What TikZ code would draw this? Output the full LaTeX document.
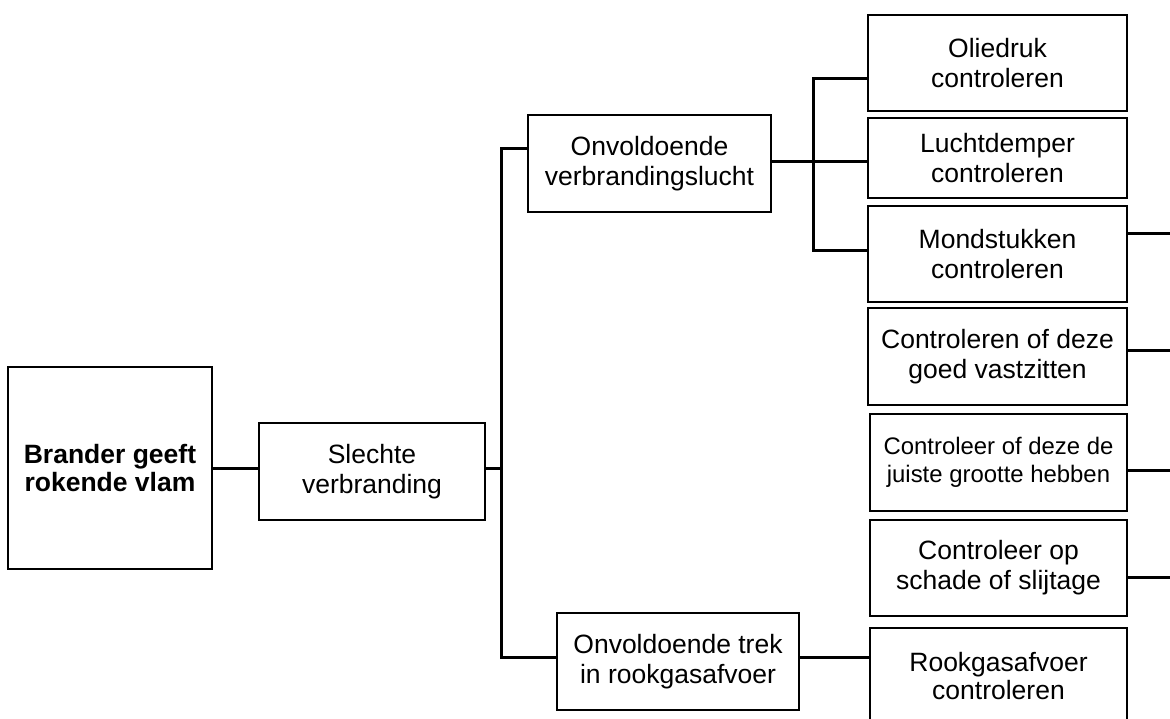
\documentclass[tikz,border=0pt]{standalone}
\usepackage{fontspec}
\setmainfont{Liberation Sans}
\begin{document}
\begin{tikzpicture}[x=1pt,y=-1pt,
  box/.style={draw=black,line width=1.8pt,inner sep=0pt,align=center,
    font=\fontsize{26.5}{30}\selectfont,minimum width=259pt,minimum height=96pt},
  conn/.style={draw=black,line width=3pt}]
\useasboundingbox (0,0) rectangle (1170,718);
\clip (0,0) rectangle (1170,718);
% nodes
\node[box,minimum width=204pt,minimum height=202pt,font=\fontsize{26.5}{28}\selectfont\bfseries] (brander) at (110,468) {Brander geeft\\rokende vlam};
\node[box,minimum width=226pt,minimum height=97pt] (slechte) at (372,471.5) {Slechte\\verbranding};
\node[box,minimum width=243pt,minimum height=97pt] (ovl) at (649.5,163.5) {Onvoldoende\\verbrandingslucht};
\node[box,minimum width=242pt,minimum height=97pt] (otrek) at (678,661.5) {Onvoldoende trek\\in rookgasafvoer};
\node[box] (olie) at (997.5,63) {Oliedruk\\controleren};
\node[box,minimum height=80pt] (lucht) at (997.5,158) {Luchtdemper\\controleren};
\node[box] (mond) at (997.5,254) {Mondstukken\\controleren};
\node[box,minimum height=97pt] (vast) at (997.5,356.5) {Controleren of deze\\goed vastzitten};
\node[box,minimum width=257pt,minimum height=97pt,font=\fontsize{23.9}{28}\selectfont] (grootte) at (998.5,462.5) {Controleer of deze de\\juiste grootte hebben};
\node[box,minimum width=257pt] (schade) at (998.5,568) {Controleer op\\schade of slijtage};
\node[box,minimum width=257pt,font=\fontsize{26.5}{28}\selectfont] (rook) at (998.5,676) {Rookgasafvoer\\controleren};
% coordinates
\coordinate (b1) at (0,468);
\coordinate (tTop) at (501,148);
\coordinate (tBot) at (501,657);
\coordinate (r1) at (0,161);
\coordinate (sTop) at (813,78);
\coordinate (sBot) at (813,250);
\coordinate (e1) at (1172,233);
\coordinate (e2) at (1172,350);
\coordinate (e3) at (1172,470);
\coordinate (e4) at (1172,577);
% connectors
\draw[conn] (b1 -| brander.east) -- (b1 -| slechte.west);
\draw[conn] (b1 -| slechte.east) -- (b1 -| tTop);
\draw[conn] (tTop -| ovl.west) -- (tTop) -- (tBot) -- (tBot -| otrek.west);
\draw[conn] (tBot -| otrek.east) -- (tBot -| rook.west);
\draw[conn] (r1 -| ovl.east) -- (r1 -| lucht.west);
\draw[conn] (sTop -| olie.west) -- (sTop) -- (sBot) -- (sBot -| mond.west);
\draw[conn] (e1 -| mond.east) -- (e1);
\draw[conn] (e2 -| vast.east) -- (e2);
\draw[conn] (e3 -| grootte.east) -- (e3);
\draw[conn] (e4 -| schade.east) -- (e4);
\end{tikzpicture}
\end{document}
